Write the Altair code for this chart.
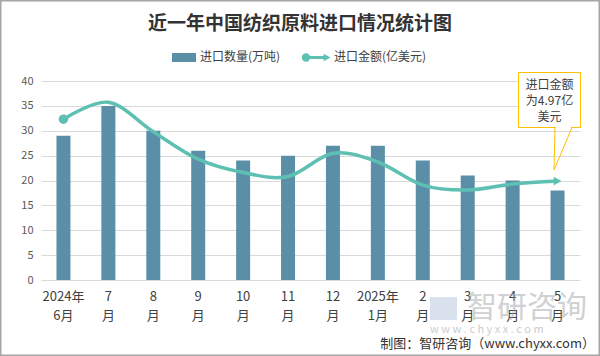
import altair as alt
import pandas as pd

months = ["2024年\n6月", "7\n月", "8\n月", "9\n月", "10\n月", "11\n月", "12\n月",
          "2025年\n1月", "2\n月", "3\n月", "4\n月", "5\n月"]
qty = [29, 35, 30, 26, 24, 25, 27, 27, 24, 21, 20, 18]
amount = [8.08, 8.93, 7.45, 6.07, 5.4, 5.2, 6.37, 5.93, 4.77, 4.52, 4.82, 4.97]

title_text = "近一年中国纺织原料进口情况统计图"
legend_bar = "进口数量(万吨)"
legend_line = "进口金额(亿美元)"
note_lines = ["进口金额", "为4.97亿", "美元"]
source_text = "制图：智研咨询（www.chyxx.com）"

FONT = "Noto Sans CJK SC"
BAR_C = "#5b8fa7"
LINE_C = "#5ec0b3"
TXT_C = "#404040"

df = pd.DataFrame({"month": months, "qty": qty, "amount": amount})
one = pd.DataFrame({"a": [0]})

xenc = alt.X("month:N", sort=months, title=None,
             scale=alt.Scale(paddingInner=0, paddingOuter=0),
             axis=alt.Axis(labelExpr="split(datum.label, '\\n')", labelAngle=0,
                           labelFontSize=13, labelColor=TXT_C, labelFont=FONT,
                           labelLineHeight=19, labelPadding=10, domain=False,
                           ticks=False, labelBaseline="top"))

bars = alt.Chart(df).mark_bar(size=14, color=BAR_C).encode(
    x=xenc,
    y=alt.Y("qty:Q", title=None,
            scale=alt.Scale(domain=[0, 40], nice=False),
            axis=alt.Axis(values=list(range(0, 45, 5)), labelFontSize=11,
                          labelColor="#595959", labelFont=FONT, labelPadding=8,
                          domain=False, ticks=False, gridColor="#d9d9d9",
                          grid=True)),
)

yline = alt.Y("amount:Q", title=None, scale=alt.Scale(domain=[0, 10], nice=False), axis=None)

line = alt.Chart(df).mark_line(color=LINE_C, strokeWidth=3.5, interpolate="cardinal").encode(
    x=alt.X("month:N", sort=months), y=yline)
start = alt.Chart(df).transform_filter(alt.datum.month == months[0]).mark_circle(
    color=LINE_C, size=90, opacity=1).encode(x=alt.X("month:N", sort=months), y=yline)
end = alt.Chart(df).transform_filter(alt.datum.month == months[-1]).mark_point(
    shape="triangle-right", filled=True, color=LINE_C, size=80, opacity=1).encode(
    x=alt.X("month:N", sort=months), y=yline)

line_layer = alt.layer(line, start, end)

data_layer = alt.layer(bars, line_layer).resolve_scale(y="independent")

# decorations (positions in pixels relative to plot origin)
def txt(s, x, y, size=12, color=TXT_C, align="left", weight="normal", opacity=1.0, font=FONT):
    return alt.Chart(one).mark_text(text=s, fontSize=size, color=color, align=align,
                                    baseline="middle", font=font, fontWeight=weight,
                                    opacity=opacity).encode(
        x=alt.value(x), y=alt.value(y))

title = txt(title_text, 259, -57, size=19, color="#333333", align="center", weight="bold")

leg_rect = alt.Chart(one).mark_rect(color=BAR_C).encode(
    x=alt.value(131), x2=alt.value(155), y=alt.value(-28), y2=alt.value(-19))
leg_t1 = txt(legend_bar, 159, -24, size=12)
leg_line = alt.Chart(one).mark_rule(color=LINE_C, strokeWidth=3).encode(
    x=alt.value(264), x2=alt.value(286), y=alt.value(-23.5))
leg_dot = alt.Chart(one).mark_circle(color=LINE_C, size=70, opacity=1).encode(
    x=alt.value(265), y=alt.value(-23.5))
leg_arrow = alt.Chart(one).mark_point(shape="triangle-right", filled=True, color=LINE_C,
                                      size=60, opacity=1).encode(
    x=alt.value(286), y=alt.value(-23.5))
leg_t2 = txt(legend_line, 293, -24, size=12)

box = alt.Chart(one).mark_rect(fill="white", stroke="#ffc000", strokeWidth=1).encode(
    x=alt.value(477.5), x2=alt.value(539.5), y=alt.value(-8.5), y2=alt.value(46.5))
ptr1 = alt.Chart(one).mark_rule(color="#ffc000", strokeWidth=1).encode(
    x=alt.value(514), x2=alt.value(513), y=alt.value(46.5), y2=alt.value(89))
ptr2 = alt.Chart(one).mark_rule(color="#ffc000", strokeWidth=1).encode(
    x=alt.value(531), x2=alt.value(513), y=alt.value(46.5), y2=alt.value(89))
ptr_cover = alt.Chart(one).mark_rule(color="white", strokeWidth=1.5).encode(
    x=alt.value(515), x2=alt.value(530), y=alt.value(46.5))
notes = [txt(s, 508.5, 4 + i * 16, size=12, align="center") for i, s in enumerate(note_lines)]

wm1 = txt("智研咨询", 426, 227, size=30, color="#a0a4a8", opacity=0.5)
wm_logo = alt.Chart(one).mark_rect(color="#b8c8dc", opacity=0.55).encode(
    x=alt.value(389), x2=alt.value(416), y=alt.value(216), y2=alt.value(239))
wm2 = txt("w w w . c h y x x . c o m", 389, 249, size=11, color="#a0a4a8", opacity=0.55)
src = txt(source_text, 554, 263, size=13, color="#333333", align="right")

border = alt.Chart(one).mark_rect(fillOpacity=0, stroke="#a6a6a6", strokeWidth=1.5).encode(
    x=alt.value(-40.25), x2=alt.value(558.25), y=alt.value(-80.25), y2=alt.value(274.25))

chart = alt.layer(
    data_layer, title, leg_rect, leg_t1, leg_line, leg_dot, leg_arrow, leg_t2,
    box, ptr1, ptr2, ptr_cover, *notes, wm_logo, wm1, wm2, src, border
).properties(
    width=539, height=199,
    autosize=alt.AutoSizeParams(type="none"),
    padding={"left": 41, "top": 81, "right": 20, "bottom": 76},
    background="white",
).configure_view(strokeWidth=0)

chart.save("out.html", embed_options={"renderer": "svg", "actions": False})
